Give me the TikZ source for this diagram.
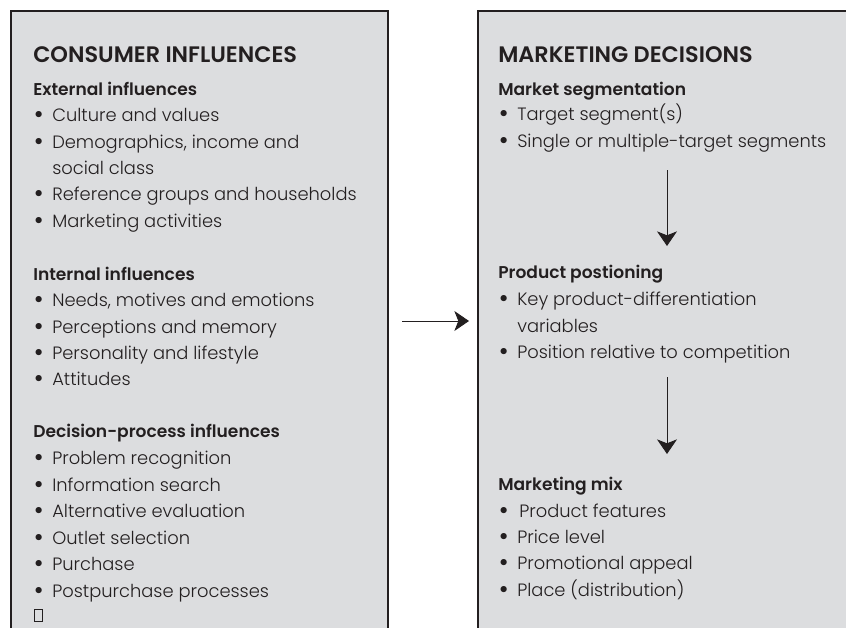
\documentclass[tikz,border=0pt]{standalone}
\usepackage{fontspec}
\setmainfont{Poppins}[UprightFont=* Light, BoldFont=* SemiBold]
\usetikzlibrary{arrows.meta}

\definecolor{panelgray}{RGB}{220,221,223}
\definecolor{inkgray}{RGB}{35,31,32}

\tikzset{
  panel/.style={fill=panelgray, draw=inkgray, line width=0.8pt},
  title/.style={anchor=base west, inner sep=0pt, text=inkgray, font=\fontsize{16.8}{19}\selectfont\bfseries},
  head/.style={anchor=base west, inner sep=0pt, text=inkgray, font=\fontsize{12.8}{15}\selectfont\bfseries},
  item/.style={anchor=base west, inner sep=0pt, text=inkgray, font=\fontsize{13.4}{16}\selectfont},
  flow/.style={-{Stealth[length=11pt,width=15pt,inset=3pt]}, line width=0.7pt, draw=inkgray, fill=inkgray}
}
\newcommand{\bul}{\llap{\raisebox{-2.2pt}{\scalebox{1.5}{\textbullet}}\hspace{6.5pt}}}

\begin{document}
\begin{tikzpicture}[x=0.75pt, y=-0.75pt]
            \useasboundingbox (0,0) rectangle (846,628);
            \clip (0,0) rectangle (846,628);

            % Panels
            \draw[panel] (11,11) rectangle (388,660);
            \draw[panel] (478,11) rectangle (870,660);

            % Consumer influences
            \node[title] (cons) at (33,62) {CONSUMER INFLUENCES};
            \node[head] (ext) at (33,95) {External influences};
            \foreach \y/\t in {121/Culture and values, 148/{Demographics, income and},
                               200/Reference groups and households, 227/Marketing activities} {
                \node[item] (ext-\y) at (52,\y) {\bul\t};
            }
            \node[item] (ext-174) at (52,174) {social class};

            \node[head] (int) at (33,280) {Internal influences};
            \foreach \y/\t in {306/{Needs, motives and emotions}, 333/Perceptions and memory,
                               359/Personality and lifestyle, 385/Attitudes} {
                \node[item] (int-\y) at (52,\y) {\bul\t};
            }

            \node[head] (dec) at (33,437) {Decision-process influences};
            \foreach \y/\t in {464/Problem recognition, 491/Information search,
                               517/Alternative evaluation, 544/Outlet selection,
                               570/Purchase, 597/Postpurchase processes} {
                \node[item] (dec-\y) at (52,\y) {\bul\t};
            }
            \draw[inkgray, line width=0.4pt] (34.5,609.5) rectangle (42.5,621.5);

            % Marketing decisions
            \node[title] (mkt) at (498,62) {MARKETING DECISIONS};
            \node[head] (seg) at (498,95) {Market segmentation};
            \foreach \y/\t in {120/Target segment(s), 147/Single or multiple-target segments} {
                \node[item] (seg-\y) at (517,\y) {\bul\t};
            }

            \node[head] (pos) at (498,278) {Product postioning};
            \foreach \y/\t in {305/Key product-differentiation, 358/Position relative to competition} {
                \node[item] (pos-\y) at (517,\y) {\bul\t};
            }
            \node[item] (pos-332) at (517,332) {variables};

            \node[head] (mix) at (498,490) {Marketing mix};
            \foreach \y/\t in {517/{\hspace{1.5pt}Product features}, 543/Price level,
                               569/Promotional appeal, 596/Place (distribution)} {
                \node[item] (mix-\y) at (517,\y) {\bul\t};
            }

            % Arrows
            \coordinate (segout) at (667,170);
            \coordinate (posin) at (667,246);
            \coordinate (posout) at (667,377);
            \coordinate (mixin) at (667,454);
            \coordinate (consout) at (402,321);
            \coordinate (mktin) at (469,321);
            \draw[flow] (segout) -- (posin);
            \draw[flow] (posout) -- (mixin);
            \draw[flow] (consout) -- (mktin);

        \end{tikzpicture}
\end{document}
